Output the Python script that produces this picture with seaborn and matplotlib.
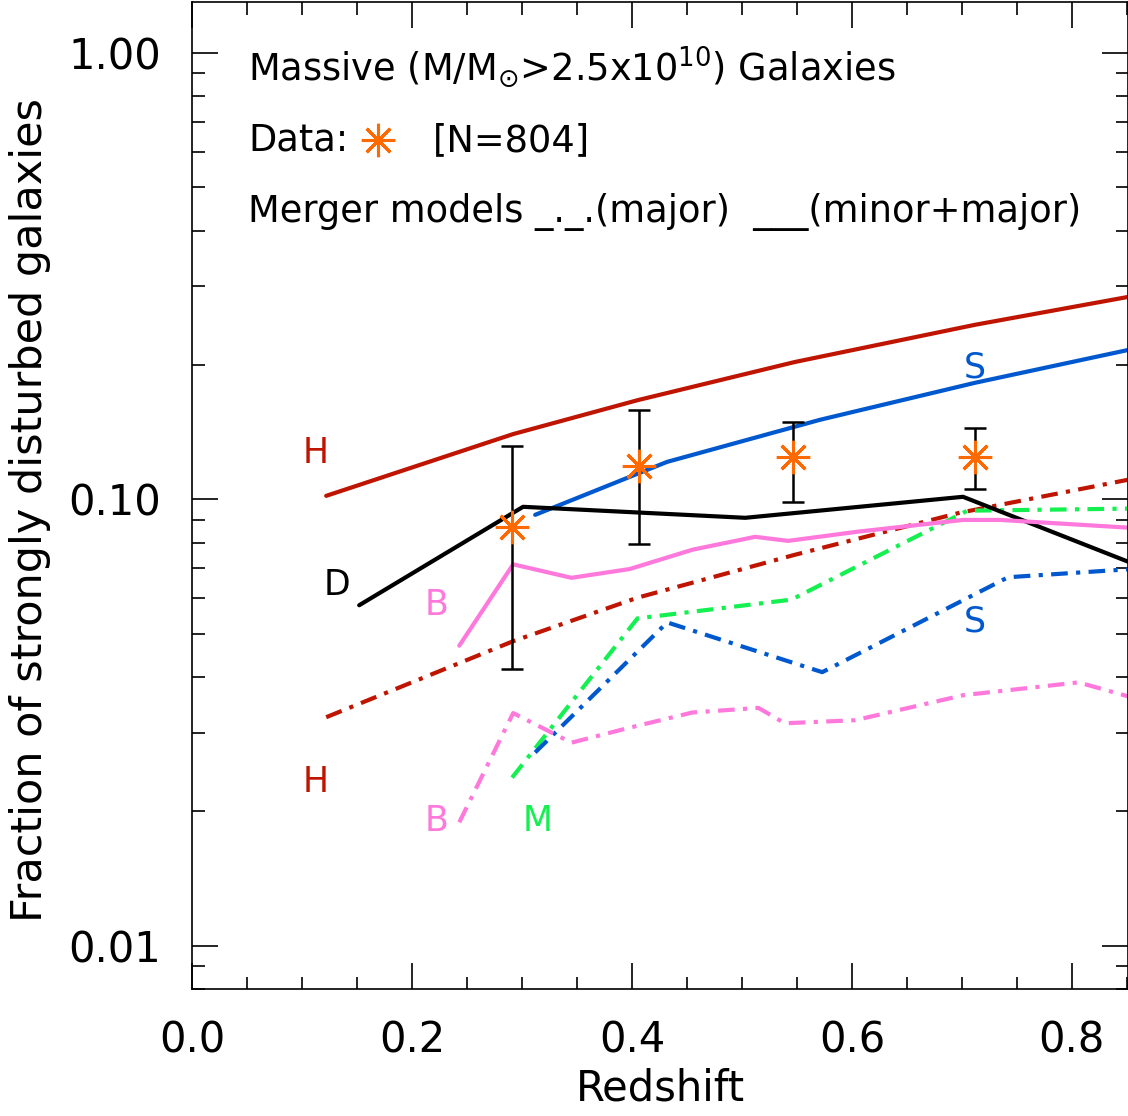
import numpy as np
import pandas as pd
import matplotlib
matplotlib.use("Agg")
import matplotlib.pyplot as plt
import seaborn as sns
from matplotlib.ticker import FixedLocator, FixedFormatter, LogLocator, NullFormatter, MultipleLocator

# ---- data ----
# solid: minor+major mergers
H_solid_z = [0.122, 0.292, 0.405, 0.548, 0.712, 0.851]
H_solid_f = [0.1018, 0.140, 0.1667, 0.203, 0.246, 0.284]

S_solid_z = [0.312, 0.432, 0.571, 0.712, 0.851]
S_solid_f = [0.0923, 0.1213, 0.1507, 0.1824, 0.216]

D_solid_z = [0.152, 0.301, 0.503, 0.701, 0.851]
D_solid_f = [0.0579, 0.0962, 0.0909, 0.1013, 0.0725]

B_solid_z = [0.243, 0.292, 0.345, 0.398, 0.455, 0.512, 0.542, 0.605, 0.701, 0.735, 0.851]
B_solid_f = [0.0470, 0.0715, 0.0667, 0.0698, 0.0771, 0.0824, 0.0807, 0.0846, 0.0899, 0.0899, 0.0864]

# dash-dot: major mergers
H_dd_z = [0.122, 0.292, 0.405, 0.548, 0.698, 0.851]
H_dd_f = [0.0325, 0.0481, 0.0602, 0.0751, 0.0933, 0.1106]

M_dd_z = [0.291, 0.405, 0.545, 0.705, 0.851]
M_dd_f = [0.0238, 0.0541, 0.0596, 0.0943, 0.0953]

S_dd_z = [0.312, 0.432, 0.573, 0.742, 0.851]
S_dd_f = [0.0271, 0.0530, 0.0410, 0.0669, 0.0697]

B_dd_z = [0.243, 0.292, 0.345, 0.398, 0.455, 0.515, 0.539, 0.603, 0.701, 0.806, 0.851]
B_dd_f = [0.0189, 0.0332, 0.0285, 0.0308, 0.0333, 0.0341, 0.0315, 0.0320, 0.0364, 0.0389, 0.0362]

# observed data
data_z = [0.291, 0.406, 0.546, 0.712]
data_f = [0.0868, 0.1189, 0.1245, 0.1245]
data_hi = [0.1318, 0.1586, 0.1491, 0.1446]
data_lo = [0.0416, 0.0793, 0.0988, 0.1056]

# curve labels
lab_text = ["H", "H", "S", "S", "D", "B", "B", "M"]
lab_z = [0.112, 0.112, 0.712, 0.712, 0.132, 0.222, 0.222, 0.314]
lab_f = [0.127, 0.0233, 0.197, 0.0532, 0.0643, 0.0581, 0.0190, 0.0190]

RED = "#bf1500"
BLUE = "#0058cf"
PINK = "#ff78dc"
GREEN = "#14f050"
ORANGE = "#ff6a00"
lab_col = [RED, RED, BLUE, BLUE, "black", PINK, PINK, GREEN]

# ---- figure ----
sns.set_theme(style="ticks")
plt.rcParams["font.family"] = ["DejaVu Sans"]
plt.rcParams["mathtext.fontset"] = "dejavusans"
for k in ["text.color", "axes.labelcolor", "xtick.color", "ytick.color", "axes.edgecolor"]:
    plt.rcParams[k] = "black"

fig = plt.figure(figsize=(11.28, 11.16), dpi=100)
ax = fig.add_axes([192 / 1128, (1116 - 989) / 1116, 936 / 1128, 987 / 1116])

LW = 3.0
DD = (0, (4, 2, 1, 2))

solid = [(H_solid_z, H_solid_f, RED), (S_solid_z, S_solid_f, BLUE),
         (D_solid_z, D_solid_f, "black"), (B_solid_z, B_solid_f, PINK)]
dashdot = [(H_dd_z, H_dd_f, RED), (M_dd_z, M_dd_f, GREEN),
           (S_dd_z, S_dd_f, BLUE), (B_dd_z, B_dd_f, PINK)]

for z, f, c in dashdot:
    sns.lineplot(x=z, y=f, ax=ax, color=c, lw=LW, linestyle=DD,
                 estimator=None, sort=False)
for z, f, c in solid:
    sns.lineplot(x=z, y=f, ax=ax, color=c, lw=LW, estimator=None, sort=False)

yerr = [np.array(data_f) - np.array(data_lo), np.array(data_hi) - np.array(data_f)]
ax.errorbar(data_z, data_f, yerr=yerr, fmt="none", ecolor="black",
            elinewidth=1.8, capsize=8, capthick=1.8, zorder=5)
ax.plot(data_z, data_f, linestyle="none", marker=(8, 2, 0), markersize=24,
        markeredgecolor=ORANGE, markeredgewidth=2.2, color=ORANGE, zorder=6)

for t, z, f, c in zip(lab_text, lab_z, lab_f, lab_col):
    ax.text(z, f, t, color=c, fontsize=25, ha="center", va="center")

# header texts
FS = 26.5
ax.text(0.0598, 0.934, r"Massive (M/M$_{\odot}$>2.5x10$^{10}$) Galaxies",
        transform=ax.transAxes, fontsize=FS, ha="left", va="center")
ax.text(0.0598, 0.860, "Data:", transform=ax.transAxes, fontsize=FS,
        ha="left", va="center")
ax.plot([0.199], [0.860], transform=ax.transAxes, linestyle="none",
        marker=(8, 2, 0), markersize=24, markeredgecolor=ORANGE,
        markeredgewidth=2.2, clip_on=False)
ax.text(0.257, 0.860, "[N=804]", transform=ax.transAxes, fontsize=FS,
        ha="left", va="center")
ax.text(0.0598, 0.787, "Merger models _._.(major)  ___(minor+major)",
        transform=ax.transAxes, fontsize=FS, ha="left", va="center")

# axes
ax.set_yscale("log")
ax.set_xlim(0, 0.851)
ax.set_ylim(0.0080, 1.30)
ax.xaxis.set_major_locator(MultipleLocator(0.2))
ax.xaxis.set_minor_locator(MultipleLocator(0.05))
ax.xaxis.set_major_formatter(matplotlib.ticker.FormatStrFormatter("%.1f"))
ax.yaxis.set_major_locator(FixedLocator([0.01, 0.1, 1.0]))
ax.yaxis.set_major_formatter(FixedFormatter(["0.01", "0.10", "1.00"]))
ax.yaxis.set_minor_locator(LogLocator(base=10, subs=np.arange(2, 10)))
ax.yaxis.set_minor_formatter(NullFormatter())

ax.tick_params(which="both", direction="in", top=True, right=True,
               color="black", width=1.2)
ax.tick_params(which="major", length=19, labelsize=30, pad=22)
ax.tick_params(which="minor", length=9)
for s in ax.spines.values():
    s.set_linewidth(1.2)
    s.set_color("black")

ax.set_xlabel("Redshift", fontsize=30, labelpad=4)
ax.set_ylabel("Fraction of strongly disturbed galaxies", fontsize=31)
ax.yaxis.set_label_coords(-0.151, 0.485)

fig.savefig("out.png", dpi=100)
